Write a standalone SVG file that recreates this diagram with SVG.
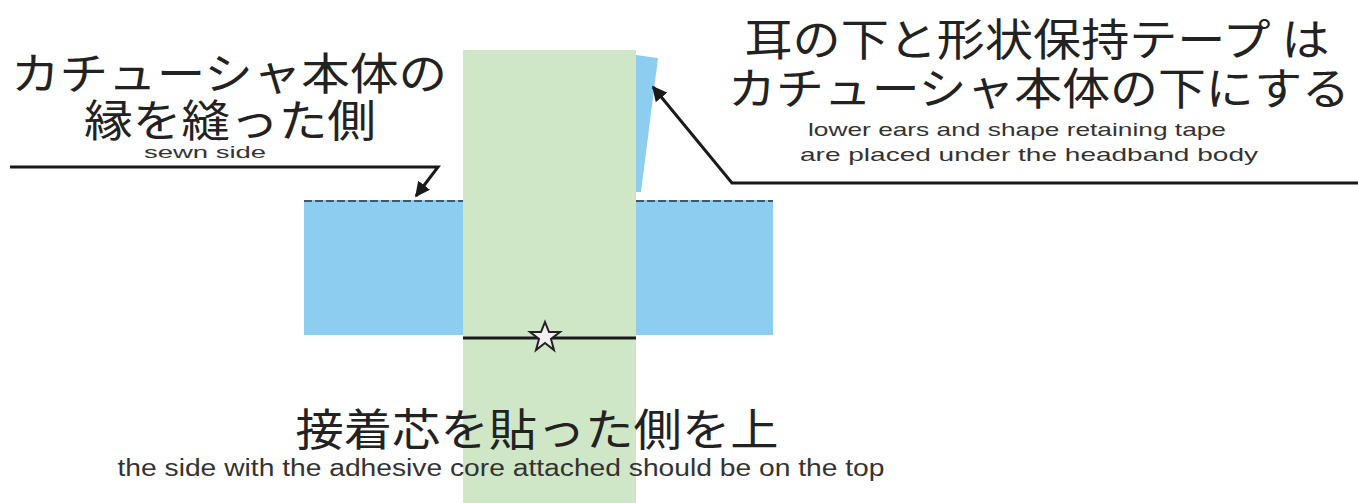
<svg xmlns="http://www.w3.org/2000/svg" width="1358" height="503" viewBox="0 0 1358 503">
<defs>
<style>
.jp{font-family:"Noto Sans CJK JP","Noto Sans",sans-serif;font-size:44px;fill:#222;text-anchor:middle}
.en{font-family:"Liberation Sans","DejaVu Sans",sans-serif;fill:#333;text-anchor:middle}
.blue{fill:#8ccdf0}
.green{fill:#cfe7c7}
.ln{stroke:#1a1a1a;stroke-width:3;fill:none}
.dash{stroke:#3a5a70;stroke-width:2;stroke-dasharray:8,3;fill:none}
</style>
<marker id="arr" viewBox="0 0 10 10" refX="9" refY="5" markerWidth="5" markerHeight="5" orient="auto"><path d="M0,0 L10,5 L0,10 z" fill="#1a1a1a"/></marker>
</defs>
<rect width="1358" height="503" fill="#fff"/>
<g id="body-left"><rect class="blue" x="304" y="200" width="160" height="135"/><line class="dash" x1="304" y1="201" x2="464" y2="201"/></g>
<g id="body-right"><rect class="blue" x="636" y="200" width="137" height="135"/><line class="dash" x1="636" y1="201" x2="773" y2="201"/></g>
<g id="tape"><polygon class="blue" points="636,55 658,58 641,192 636,192"/></g>
<g id="core"><rect class="green" x="463" y="50" width="173" height="453"/></g>
<g id="seam"><line class="ln" x1="463" y1="338" x2="636" y2="338"/>
<polygon points="545,322 549,332 560,332 551,339 554,350 545,343 536,350 539,339 530,332 541,332" fill="#f4eef4" stroke="#222" stroke-width="2"/></g>
<g id="connectors">
<polyline class="ln" points="10,167 438,167 416,196" marker-end="url(#arr)"/>
<polyline class="ln" points="1358,183 732,183 653,87" marker-end="url(#arr)"/>
</g>
<g id="label-left">
<text class="jp" x="229" y="90" textLength="436" lengthAdjust="spacingAndGlyphs">カチューシャ本体の</text>
<text class="jp" x="230" y="137" textLength="292" lengthAdjust="spacingAndGlyphs">縁を縫った側</text>
<text class="en" x="205" y="158" font-size="16" textLength="122" lengthAdjust="spacingAndGlyphs">sewn side</text>
</g>
<g id="label-right">
<text class="jp" x="1037" y="56" textLength="585" lengthAdjust="spacingAndGlyphs">耳の下と形状保持テープ は</text>
<text class="jp" x="1039" y="105" textLength="622" lengthAdjust="spacingAndGlyphs">カチューシャ本体の下にする</text>
<text class="en" x="1017" y="136" font-size="19" textLength="418" lengthAdjust="spacingAndGlyphs">lower ears and shape retaining tape</text>
<text class="en" x="1029" y="161" font-size="19" textLength="458" lengthAdjust="spacingAndGlyphs">are placed under the headband body</text>
</g>
<g id="label-bottom">
<text class="jp" x="537" y="446" textLength="483" lengthAdjust="spacingAndGlyphs">接着芯を貼った側を上</text>
<text class="en" x="501" y="476" font-size="23" textLength="767" lengthAdjust="spacingAndGlyphs">the side with the adhesive core attached should be on the top</text>
</g>
</svg>
